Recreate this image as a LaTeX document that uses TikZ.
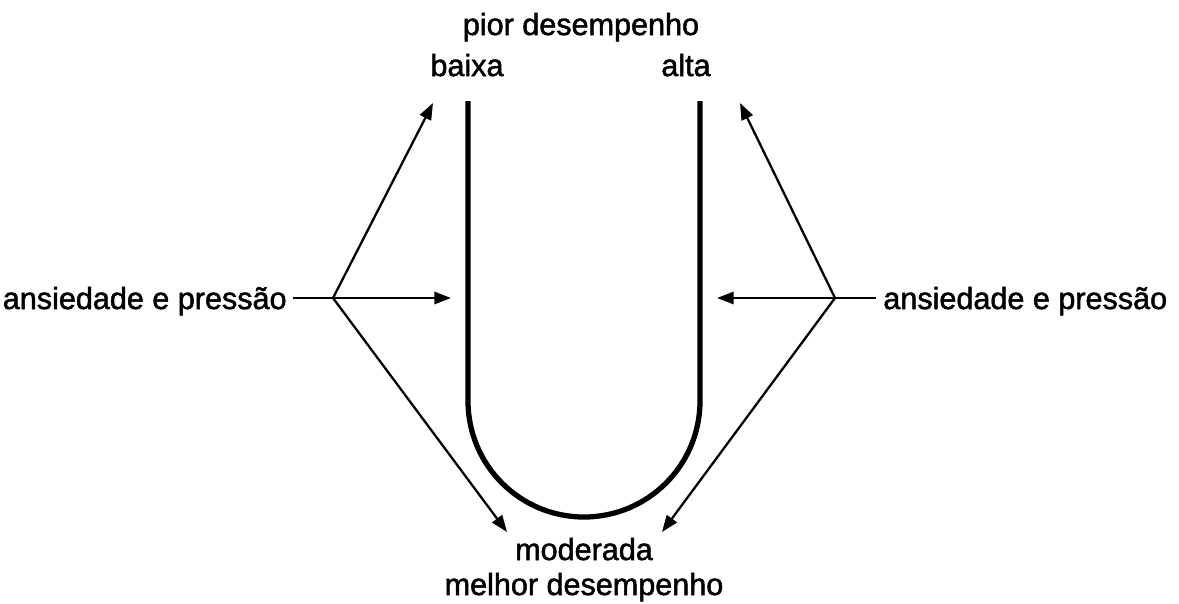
\documentclass[tikz,border=0pt]{standalone}
\usepackage{fontspec}
\setmainfont{Liberation Sans}
\newfontfamily\lblfont{Liberation Sans}[FakeBold=1.6]
\usetikzlibrary{arrows.meta}

\tikzset{
	lbl/.style={inner sep=0pt, anchor=base, font=\lblfont\fontsize{17.4}{20}\selectfont},
	fan/.style={line width=1.3pt},
	fanarrow/.style={fan, -{Triangle[length=9.5pt, width=7pt]}},
	ucurve/.style={line width=3pt}
}

\begin{document}
\begin{tikzpicture}[x=0.02cm, y=-0.02cm]
	\useasboundingbox (0,0) rectangle (1179,603);
	% labels
	\node[lbl] (worst) at (581,35) {pior desempenho};
	\node[lbl] (low) at (467,76) {baixa};
	\node[lbl] (high) at (686,76) {alta};
	\node[lbl] (moderate) at (584,560) {moderada};
	\node[lbl] (best) at (584,595) {melhor desempenho};
	\node[lbl, anchor=base east] (pressL) at (287,309) {ansiedade e press\~ao};
	\node[lbl, anchor=base west] (pressR) at (883,309) {ansiedade e press\~ao};
	% U curve
	\draw[ucurve] (468,101) -- (468,401) arc[start angle=180, end angle=0, radius=116] -- (700,101);
	% fan points and arrow tips
	\coordinate (fanL) at (333,298);
	\coordinate (fanR) at (835,298);
	\coordinate (tipLu) at (433,103);
	\coordinate (tipLm) at (451,298);
	\coordinate (tipLd) at (507,532);
	\coordinate (tipRu) at (740,103);
	\coordinate (tipRm) at (717,298);
	\coordinate (tipRd) at (662,532);
	% left side
	\draw[fan] (pressL.east |- fanL) ++(6,0) -- (fanL);
	\draw[fanarrow] (fanL) -- (tipLu);
	\draw[fanarrow] (fanL) -- (tipLm);
	\draw[fanarrow] (fanL) -- (tipLd);
	% right side
	\draw[fan] (pressR.west |- fanR) ++(-7,0) -- (fanR);
	\draw[fanarrow] (fanR) -- (tipRu);
	\draw[fanarrow] (fanR) -- (tipRm);
	\draw[fanarrow] (fanR) -- (tipRd);
\end{tikzpicture}
\end{document}
